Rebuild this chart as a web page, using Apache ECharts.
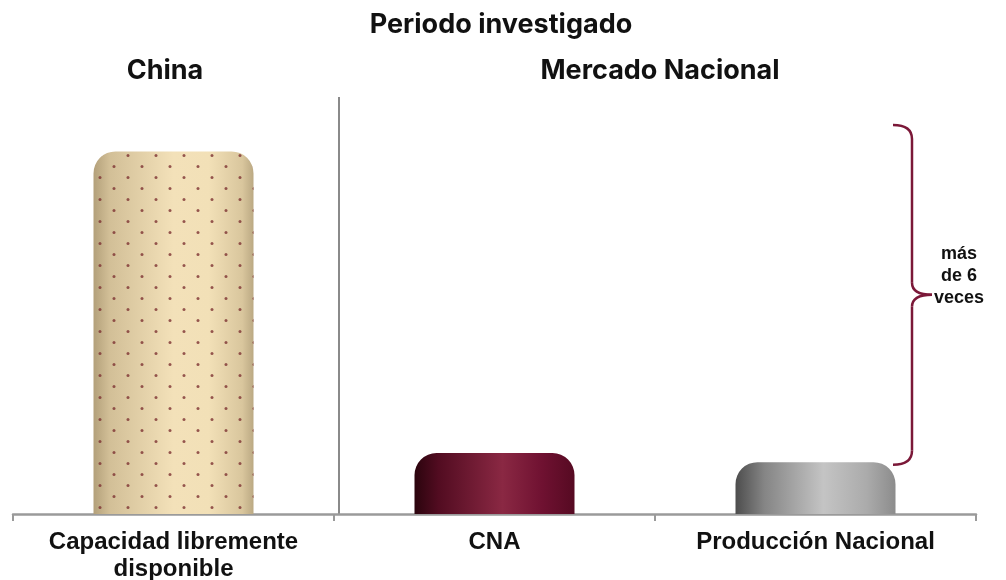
<!DOCTYPE html>
<html>
<head>
<meta charset="utf-8">
<title>Periodo investigado</title>
<script src="https://cdn.jsdelivr.net/npm/echarts@6.0.0/dist/echarts.min.js"></script>
<style>
  html, body { margin: 0; padding: 0; background: #fff; }
  #chart { width: 1006px; height: 580px; }
</style>
</head>
<body>
<div id="chart"></div>
<script>
// datos (unidades relativas)
const categories = ['Capacidad libremente\ndisponible', 'CNA', 'Producción Nacional'];
const values = [100, 16.8, 14.3];
const groupTitles = ['China', 'Mercado Nacional'];
const mainTitle = 'Periodo investigado';
const braceText = 'más\nde 6\nveces';

// sombreado de cilindro para cada barra
function cylinder(stops) {
  return {
    type: 'linear', x: 0, y: 0, x2: 1, y2: 0,
    colorStops: stops.map(s => ({ offset: s[0], color: s[1] }))
  };
}
const barColors = [
  cylinder([[0, '#b3a07a'], [0.1, '#d2bf97'], [0.5, '#f3e1b9'], [0.72, '#f2e0b7'], [0.93, '#d9c69d'], [1, '#bba983']]),
  cylinder([[0, '#2b040e'], [0.15, '#520c21'], [0.55, '#8a2843'], [0.8, '#6f1131'], [1, '#560a22']]),
  cylinder([[0, '#4d4d4d'], [0.18, '#858585'], [0.55, '#c4c4c4'], [0.82, '#ababab'], [1, '#8c8c8c']])
];
const dotDecal = {
  symbol: 'circle',
  symbolSize: 1,
  color: 'rgba(125,50,50,0.8)',
  dashArrayX: [[3.5, 23.5], [0, 13.5, 3.5, 10]],
  dashArrayY: [2.6, 7.4]
};

const chart = echarts.init(document.getElementById('chart'));

const option = {
  animation: false,
  grid: { left: 13, right: 30, top: 97, bottom: 66, outerBoundsMode: 'none' },
  xAxis: {
    type: 'category',
    data: categories,
    axisLine: { lineStyle: { color: '#9a9a9a', width: 2.5 } },
    axisTick: { show: true, interval: 0, length: 7, lineStyle: { color: '#9a9a9a', width: 2 } },
    axisLabel: {
      interval: 0,
      hideOverlap: false,
      margin: 15,
      fontFamily: '"Liberation Sans", Arial, sans-serif',
      fontWeight: 'bold',
      fontSize: 24,
      lineHeight: 27,
      color: '#111'
    }
  },
  yAxis: {
    type: 'value',
    min: 0,
    max: 115,
    show: false
  },
  series: [{
    type: 'bar',
    barWidth: 160,
    data: values.map((v, i) => {
      const itemStyle = { color: barColors[i], borderRadius: [22, 22, 0, 0] };
      if (i === 0) itemStyle.decal = dotDecal;
      return { value: v, itemStyle: itemStyle };
    })
  }]
};
chart.setOption(option);

// anotaciones: titulos, divisor y llave
const titleFont = 'bold 27px Inter, "Open Sans", sans-serif';
const p0 = chart.convertToPixel({ gridIndex: 0 }, [0, 0]);
const pTop = chart.convertToPixel({ gridIndex: 0 }, [0, values[0] * 1.073]);
const pBot = chart.convertToPixel({ gridIndex: 0 }, [2, values[2] * 0.95]);
const yT = pTop[1], yB = pBot[1], yM = (yT + yB) / 2;
const xL = 893, xV = 912, xTip = 932;
const braceColor = '#7b1838';
const bs = { stroke: braceColor, lineWidth: 2.5, fill: null };

chart.setOption({
  graphic: [
    { type: 'text', x: 501, y: 25, style: { text: mainTitle, font: titleFont, fill: '#111', align: 'center', verticalAlign: 'middle' } },
    { type: 'text', x: 165, y: 71, style: { text: groupTitles[0], font: titleFont, fill: '#111', align: 'center', verticalAlign: 'middle' } },
    { type: 'text', x: 660, y: 71, style: { text: groupTitles[1], font: titleFont, fill: '#111', align: 'center', verticalAlign: 'middle' } },
    { type: 'line', shape: { x1: 339, y1: 97, x2: 339, y2: p0[1] }, style: { stroke: '#8a8a8a', lineWidth: 2 } },
    { type: 'bezierCurve', shape: { x1: xL, y1: yT, cpx1: xV, cpy1: yT, x2: xV, y2: yT + 14 }, style: bs },
    { type: 'line', shape: { x1: xV, y1: yT + 14, x2: xV, y2: yM - 12 }, style: bs },
    { type: 'bezierCurve', shape: { x1: xV, y1: yM - 12, cpx1: xV, cpy1: yM, x2: xTip, y2: yM }, style: bs },
    { type: 'bezierCurve', shape: { x1: xTip, y1: yM, cpx1: xV, cpy1: yM, x2: xV, y2: yM + 12 }, style: bs },
    { type: 'line', shape: { x1: xV, y1: yM + 12, x2: xV, y2: yB - 14 }, style: bs },
    { type: 'bezierCurve', shape: { x1: xV, y1: yB - 14, cpx1: xV, cpy1: yB, x2: xL, y2: yB }, style: bs },
    { type: 'text', x: 959, y: yM - 19, style: { text: braceText, font: 'bold 18px "Liberation Sans", Arial, sans-serif', lineHeight: 22, fill: '#111', align: 'center', verticalAlign: 'middle' } }
  ]
});
</script>
</body>
</html>
